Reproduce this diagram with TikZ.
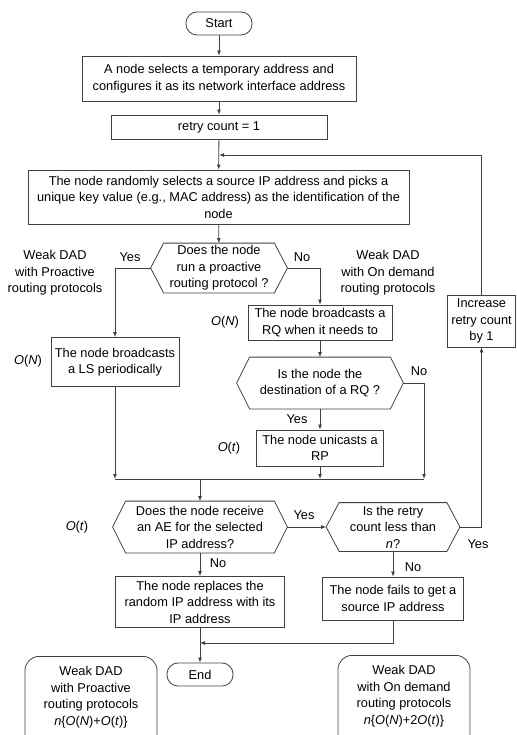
\documentclass[tikz,border=0pt]{standalone}
\usepackage{fontspec}
\setmainfont{Liberation Sans}
\usepackage{tikz}
\usetikzlibrary{arrows.meta, positioning, calc}
\definecolor{fcLine}{HTML}{404040}
\newcommand{\hexbox}[1]{\draw[ln] (#1.west) -- ([xshift=13pt]#1.north west) -- ([xshift=-13pt]#1.north east) -- (#1.east) -- ([xshift=-13pt]#1.south east) -- ([xshift=13pt]#1.south west) -- cycle;}

\begin{document}
\begin{tikzpicture}[x=1pt, y=-1pt, line width=0.8pt,
  every node/.style={font=\fontsize{12.8}{16.5}\selectfont},
  proc/.style={draw=fcLine, align=center, inner sep=0pt},
  term/.style={draw=fcLine, rounded corners=11pt, minimum width=66pt, minimum height=23pt, inner sep=0pt},
  ask/.style={align=center, inner sep=0pt},
  note/.style={draw=fcLine, rounded corners=14pt, align=center, inner xsep=0pt, inner ysep=10pt, minimum width=132pt, text depth=20pt, anchor=north},
  e/.style={draw=fcLine, -{Latex[length=5pt,width=4pt]}},
  ln/.style={draw=fcLine}]
  \path[use as bounding box, clip] (0,0) rectangle (516,735);
  % main column
  \node[term](start) at (219,23.5) {Start};
  \node[proc, minimum width=274pt, minimum height=45pt](init) at (219,78.5) {A node selects a temporary address and\\configures it as its network interface address};
  \node[proc, minimum width=216pt, minimum height=24pt](retry) at (219,127) {retry count = 1};
  \node[proc, minimum width=381pt, minimum height=54pt](pick) at (218.5,197) {The node randomly selects a source IP address and picks a\\unique key value (e.g., MAC address) as the identification of the\\node};
  \node[ask, minimum width=136pt, minimum height=49pt](askpro) at (219,268) {Does the node\\run a proactive\\routing protocol ?};
  \node[proc, minimum width=144pt, minimum height=35pt](rq) at (320,322.5) {The node broadcasts a\\RQ when it needs to};
  \node[proc, minimum width=128pt, minimum height=49pt](ls) at (115,362) {The node broadcasts\\a LS periodically};
  \node[ask, minimum width=166pt, minimum height=51pt](askdst) at (320,383) {Is the node the\\destination of a RQ ?};
  \node[proc, minimum width=127pt, minimum height=36pt](rp) at (320,448) {The node unicasts a\\RP};
  \node[ask, minimum width=174pt, minimum height=51pt](askae) at (200,527) {Does the node receive\\an AE for the selected\\IP address?};
  \node[ask, minimum width=133pt, minimum height=48pt](askcnt) at (393,527) {Is the retry\\count less than\\\textit{n}?};
  \node[proc, minimum width=68pt, minimum height=52pt](incr) at (481.5,321) {Increase\\retry count\\by 1};
  \node[proc, minimum width=141pt, minimum height=43pt](fail) at (393,598.5) {The node fails to get a\\source IP address};
  \node[proc, minimum width=169pt, minimum height=51pt](repl) at (200,602) {The node replaces the\\random IP address with its\\IP address};
  \node[term](end) at (200,674.5) {End};
  \hexbox{askpro} \hexbox{askdst} \hexbox{askae} \hexbox{askcnt}
  % cost notes
  \node[note](costpro) at (91,656) {Weak DAD\\with Proactive\\routing protocols\\\textit{n}\{\textit{O}(\textit{N})+\textit{O}(\textit{t})\}};
  \node[note](costdem) at (404,655) {Weak DAD\\with On demand\\routing protocols\\\textit{n}\{\textit{O}(\textit{N})+2\textit{O}(\textit{t})\}};
  % side texts
  \node[align=center](wpro) at (55,273) {Weak DAD\\with Proactive\\routing protocols};
  \node[align=center](wdem) at (388,273) {Weak DAD\\with On demand\\routing protocols};
  \node(cRQ) at (225,322) {\textit{O}(\textit{N})};
  \node(cLS) at (28,361) {\textit{O}(\textit{N})};
  \node(cRP) at (229,448) {\textit{O}(\textit{t})};
  \node(cAE) at (77,527) {\textit{O}(\textit{t})};
  \node(yPro) at (130,257) {Yes};
  \node(nPro) at (302,257) {No};
  \node(nDst) at (419,371) {No};
  \node(yDst) at (297,419) {Yes};
  \node(yAE) at (304,515) {Yes};
  \node(nAE) at (218,563) {No};
  \node(yCnt) at (478,544) {Yes};
  \node(nCnt) at (413,567) {No};
  % joints
  \coordinate(loop) at (219,155);
  \coordinate(mL) at (115,479);
  \coordinate(mR) at (424,479);
  \coordinate(mC) at (200,479);
  \coordinate(jn) at (200,643);
  % connectors
  \draw[e](start)--(init); \draw[e](init)--(retry);
  \draw[e](retry)--(pick); \draw[e](pick)--(askpro);
  \draw[e](askpro.west)-|(ls.north); \draw[e](askpro.east)-|(rq.north);
  \draw[e](rq)--(askdst); \draw[e](askdst)--(rp);
  \draw[e](askdst.east)-|(mR);
  \draw[e](ls.south)--(mL); \draw[e](rp.south)--(rp|-mL);
  \draw[ln](mL)--(mR);
  \draw[e](mC)--(askae);
  \draw[e](askae.east)--(askcnt.west);
  \draw[e](askcnt.east)-|(incr.south);
  \draw[e](incr.north)|-(loop);
  \draw[e](askae)--(repl); \draw[e](askcnt)--(fail);
  \draw[e](repl)--(end);
  \draw[e](fail.south)|-(jn);
\end{tikzpicture}
\end{document}
